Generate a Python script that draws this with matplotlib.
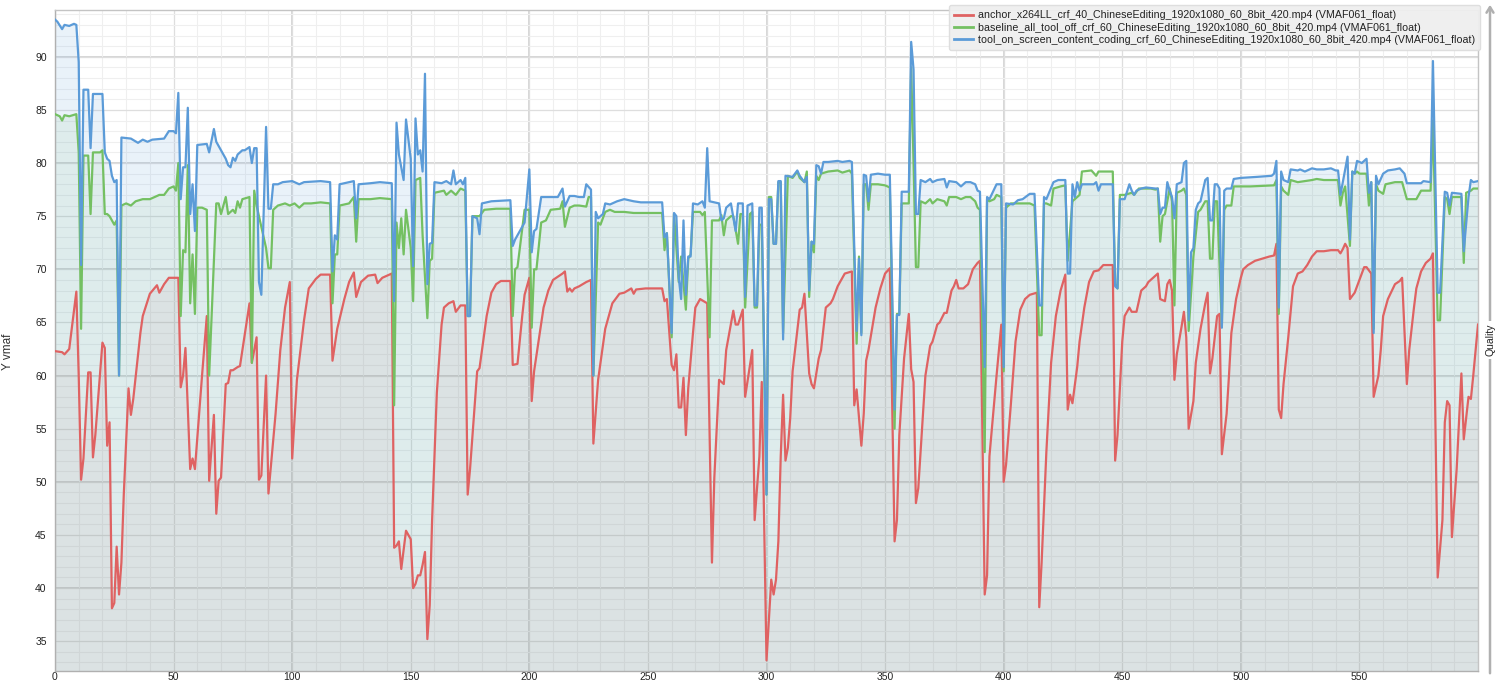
"""Per-frame VMAF comparison of three encodes (ChineseEditing clip)."""

import matplotlib
matplotlib.use("Agg")
import matplotlib.pyplot as plt
from matplotlib.lines import Line2D
from matplotlib.patches import FancyArrowPatch

plt.rcParams.update({
    "font.family": ["Liberation Sans", "DejaVu Sans"],
    "font.size": 7.5,
    "axes.linewidth": 1.0,
})

# ── Data (frame index, VMAF score) ────────────────────────────────────

anchor_frames = [
    0, 3, 4, 6, 9, 10, 11, 12, 14, 15, 16, 17, 20, 21, 22, 23, 24, 25, 26, 27,
    28, 29, 31, 32, 33, 36, 37, 39, 40, 43, 44, 46, 48, 52, 53, 54, 55, 57, 58, 59,
    62, 64, 65, 67, 68, 69, 70, 72, 73, 74, 75, 77, 78, 82, 83, 85, 86, 87, 89, 90,
    93, 95, 97, 99, 100, 102, 105, 107, 110, 112, 116, 117, 119, 122, 124, 126, 127,
    129, 132, 135, 136, 138, 142, 143, 144, 145, 146, 148, 150, 151, 152, 153, 154,
    155, 156, 157, 158, 159, 161, 163, 164, 166, 168, 169, 171, 173, 174, 175, 178,
    179, 182, 184, 186, 188, 192, 193, 195, 197, 198, 200, 201, 202, 206, 208, 210,
    214, 215, 216, 217, 218, 219, 221, 224, 226, 227, 229, 232, 235, 238, 240, 243,
    244, 245, 249, 256, 257, 258, 260, 261, 262, 263, 264, 265, 266, 267, 269, 270,
    272, 275, 277, 278, 280, 282, 283, 286, 287, 288, 290, 291, 294, 295, 297, 298,
    300, 302, 303, 304, 305, 306, 307, 308, 309, 310, 311, 314, 315, 316, 318, 319,
    320, 322, 323, 325, 327, 328, 330, 332, 333, 336, 337, 338, 340, 341, 342, 343,
    346, 348, 350, 352, 354, 355, 356, 358, 360, 361, 362, 363, 364, 367, 369, 370,
    372, 373, 375, 376, 378, 379, 380, 381, 383, 385, 387, 389, 390, 392, 393, 394,
    397, 399, 400, 401, 403, 405, 407, 409, 411, 414, 415, 416, 418, 420, 422, 424,
    426, 427, 428, 429, 431, 432, 434, 436, 438, 440, 442, 446, 447, 448, 449, 450,
    451, 453, 454, 456, 458, 460, 461, 463, 465, 466, 468, 469, 470, 471, 472, 473,
    475, 476, 477, 478, 480, 481, 483, 485, 486, 487, 488, 490, 491, 492, 494, 495,
    496, 498, 500, 501, 503, 506, 509, 512, 514, 515, 516, 517, 518, 520, 522, 524,
    526, 528, 530, 532, 535, 538, 541, 542, 543, 544, 545, 546, 548, 549, 551, 552,
    553, 555, 556, 558, 559, 560, 562, 565, 567, 568, 570, 571, 573, 574, 576, 578,
    580, 581, 583, 585, 586, 587, 588, 589, 591, 593, 594, 596, 597, 598, 600,
]
anchor_vmaf = [
    62.3, 62.2, 62.0, 62.5, 67.9, 60.0, 50.2, 52.2, 60.3, 60.3, 52.3, 54.4, 63.1, 62.6, 53.4, 55.6, 38.1, 38.6, 43.9, 39.4,
    42.4, 48.8, 58.8, 56.3, 57.8, 64.0, 65.6, 67.0, 67.7, 68.5, 67.8, 68.6, 69.2, 69.2, 58.9, 60.0, 62.6, 51.2, 52.2, 51.2,
    60.0, 65.6, 50.1, 56.3, 47.0, 50.1, 50.4, 59.2, 59.3, 60.5, 60.5, 60.8, 60.9, 66.8, 61.2, 63.6, 50.2, 50.6, 60.0, 48.9,
    56.4, 62.4, 66.4, 68.8, 52.2, 59.6, 65.2, 68.2, 69.1, 69.5, 69.5, 61.4, 64.4, 67.2, 68.8, 69.7, 67.4,
    68.8, 69.4, 69.5, 68.7, 69.2, 69.6, 43.8, 44.0, 44.4, 41.8, 45.4, 44.6, 40.0, 40.4, 41.2, 41.2,
    42.2, 43.4, 35.2, 38.4, 46.4, 58.4, 64.8, 66.4, 66.8, 67.0, 66.0, 66.6, 66.6, 48.8, 51.2, 60.4,
    60.7, 65.6, 67.8, 68.6, 68.9, 68.9, 61.0, 61.1, 65.6, 67.6, 69.2, 57.6, 60.4, 66.4, 68.0, 69.0,
    69.6, 69.8, 67.9, 68.2, 67.9, 68.2, 68.4, 68.8, 69.0, 53.6, 59.6, 64.4, 66.8, 67.7, 67.8, 68.2,
    67.7, 68.1, 68.2, 68.2, 67.0, 67.2, 61.0, 60.5, 62.0, 57.0, 57.0, 59.8, 54.4, 58.8, 64.0, 66.4,
    67.2, 66.8, 42.4, 50.4, 59.6, 59.2, 62.4, 66.1, 64.8, 64.8, 66.2, 58.0, 62.4, 46.4, 52.4, 59.4,
    33.2, 40.8, 39.4, 40.8, 44.4, 52.4, 58.2, 52.0, 53.2, 56.0, 60.4, 66.2, 66.4, 67.7, 60.2, 59.2,
    58.8, 61.6, 62.4, 66.4, 66.8, 67.2, 68.4, 69.2, 69.6, 69.8, 57.2, 58.7, 53.4, 56.4, 61.4, 62.4,
    66.4, 68.2, 69.6, 70.1, 44.4, 46.4, 54.4, 61.6, 65.8, 60.6, 59.4, 48.0, 49.4, 60.0, 62.8, 63.2,
    64.8, 65.0, 65.9, 65.9, 68.0, 68.4, 69.0, 68.2, 68.2, 68.6, 70.0, 70.6, 70.8, 39.4, 41.2, 52.4,
    60.0, 64.8, 50.0, 51.6, 57.2, 63.2, 66.2, 67.2, 67.6, 67.8, 38.2, 42.4, 52.8, 61.2, 65.6, 68.0,
    69.5, 56.8, 58.2, 57.4, 60.8, 63.2, 66.4, 68.8, 69.8, 69.9, 70.4, 70.4, 52.0, 54.4, 58.8, 63.2,
    65.6, 66.4, 66.0, 66.0, 68.0, 68.4, 68.8, 69.2, 69.6, 67.2, 67.0, 68.6, 69.0, 68.0, 59.6, 62.0,
    64.6, 66.0, 63.6, 55.0, 57.6, 61.2, 64.4, 66.8, 67.8, 60.2, 61.6, 65.6, 65.8, 52.6, 56.4, 60.0,
    64.0, 67.2, 69.2, 70.0, 70.4, 70.8, 71.0, 71.2, 71.3, 72.4, 56.8, 56.0, 59.2, 63.6, 68.4, 69.6,
    69.8, 70.4, 71.2, 71.7, 71.7, 71.8, 71.8, 71.5, 71.9, 72.4, 72.0, 67.2, 67.8, 68.4, 69.6, 70.2,
    70.2, 69.6, 58.0, 60.0, 62.4, 65.6, 67.2, 68.6, 68.9, 69.2, 59.2, 62.4, 66.4, 68.2, 69.8, 70.6,
    71.0, 71.5, 41.0, 46.4, 55.6, 57.6, 57.2, 44.8, 51.2, 60.2, 54.0, 58.0, 57.8, 60.0, 64.8,
]

baseline_frames = [
    0, 2, 3, 4, 6, 9, 10, 11, 12, 14, 15, 16, 19, 20, 21, 22, 23, 25, 26, 27,
    28, 30, 32, 34, 37, 40, 44, 46, 48, 50, 51, 52, 53, 54, 55, 56, 57, 58, 59, 60,
    62, 64, 65, 68, 69, 70, 72, 73, 75, 76, 77, 78, 79, 82, 83, 84, 85, 87, 89, 90,
    91, 92, 94, 97, 99, 101, 103, 105, 108, 112, 116, 117, 118, 119, 120, 124, 126,
    127, 128, 133, 137, 142, 143, 144, 145, 146, 147, 148, 150, 151, 152, 154, 155,
    157, 158, 159, 160, 164, 165, 167, 169, 171, 173, 174, 175, 176, 179, 181, 186,
    192, 193, 194, 195, 198, 200, 201, 202, 203, 205, 207, 209, 213, 214, 215, 217,
    219, 221, 224, 225, 226, 227, 229, 230, 232, 234, 236, 240, 244, 256, 257, 258,
    260, 261, 263, 264, 266, 267, 268, 269, 272, 273, 274, 276, 277, 280, 281, 282,
    283, 285, 286, 288, 289, 290, 291, 293, 294, 295, 296, 297, 298, 300, 301, 302,
    303, 304, 305, 306, 307, 309, 311, 313, 314, 316, 317, 318, 319, 320, 321, 322,
    323, 326, 330, 332, 335, 336, 338, 339, 340, 341, 342, 343, 344, 347, 350, 352,
    354, 355, 356, 357, 360, 361, 362, 363, 364, 365, 367, 369, 370, 372, 375, 376,
    377, 380, 382, 384, 386, 388, 389, 390, 392, 393, 394, 396, 397, 399, 400, 401,
    403, 408, 411, 413, 415, 416, 417, 418, 420, 421, 424, 426, 427, 429, 431, 432,
    433, 437, 439, 440, 446, 447, 448, 449, 451, 454, 455, 457, 459, 462, 464, 465,
    466, 467, 468, 470, 471, 472, 473, 475, 476, 477, 478, 480, 482, 483, 485, 486,
    487, 488, 489, 490, 492, 493, 494, 496, 497, 504, 514, 515, 516, 517, 518, 520,
    521, 524, 527, 530, 532, 535, 538, 541, 542, 543, 544, 546, 547, 548, 549, 550,
    553, 554, 555, 556, 557, 558, 560, 561, 565, 568, 570, 572, 574, 576, 580, 581,
    583, 584, 586, 587, 588, 589, 593, 594, 595, 597, 598, 600,
]
baseline_vmaf = [
    84.6, 84.4, 84.0, 84.5, 84.4, 84.6, 81.0, 64.4, 80.7, 80.7, 75.2, 81.0, 81.0, 81.2, 75.2, 75.2, 75.0, 74.2, 74.6, 60.0,
    76.0, 76.2, 76.0, 76.4, 76.6, 76.6, 77.0, 77.0, 77.6, 77.8, 77.4, 80.0, 65.6, 71.8, 71.6, 79.8, 66.8, 71.4, 65.8, 75.8,
    75.8, 75.6, 60.0, 76.2, 76.2, 75.2, 76.8, 75.2, 75.6, 75.3, 76.4, 75.8, 76.6, 76.8, 61.2, 77.4, 76.0, 74.0, 72.0, 70.1,
    70.1, 75.6, 76.0, 76.2, 76.0, 76.2, 75.8, 76.2, 76.2, 76.3, 76.2, 66.8, 71.4, 71.4, 76.0, 76.2, 76.8,
    72.6, 76.6, 76.6, 76.7, 76.6, 57.2, 74.4, 72.0, 74.8, 71.4, 75.6, 72.0, 67.0, 78.4, 78.6, 73.2,
    65.4, 70.8, 71.0, 77.2, 77.4, 77.0, 77.4, 77.0, 77.6, 77.4, 65.6, 65.6, 75.0, 75.0, 75.6, 75.7,
    75.7, 65.6, 70.0, 70.2, 75.6, 75.6, 64.5, 70.0, 70.0, 74.4, 74.6, 75.6, 75.7, 76.4, 74.0, 75.8,
    76.0, 76.0, 75.9, 76.8, 76.8, 60.0, 74.4, 74.2, 75.4, 75.6, 75.4, 75.4, 75.3, 75.3, 71.8, 73.4,
    63.6, 75.2, 68.8, 71.2, 66.2, 71.0, 71.4, 75.4, 75.4, 75.1, 75.4, 63.6, 74.6, 74.6, 75.1, 73.2,
    74.6, 75.0, 75.0, 72.4, 75.2, 75.2, 66.4, 75.2, 75.4, 66.4, 66.4, 74.2, 74.2, 48.8, 76.8, 76.8,
    72.4, 72.4, 78.2, 78.2, 64.0, 78.8, 78.6, 79.2, 78.6, 78.2, 79.2, 67.4, 72.6, 71.6, 78.8, 78.4,
    79.0, 79.2, 79.3, 79.1, 79.3, 79.0, 63.0, 71.2, 64.0, 78.0, 78.0, 75.6, 78.0, 78.0, 77.9, 77.7,
    55.0, 65.8, 65.8, 76.2, 76.2, 89.0, 80.0, 70.2, 70.2, 76.4, 76.2, 76.6, 76.2, 76.6, 76.4, 76.0,
    76.8, 76.8, 76.6, 76.8, 76.8, 76.4, 75.8, 75.6, 52.8, 76.6, 76.4, 76.6, 77.0, 76.8, 60.4, 75.8,
    76.2, 76.2, 76.2, 76.0, 63.8, 63.8, 76.2, 76.2, 76.0, 77.6, 77.8, 77.9, 70.8, 76.4, 76.8, 77.0,
    79.2, 79.3, 78.8, 79.2, 79.2, 68.6, 68.2, 77.0, 77.0, 77.2, 77.0, 77.6, 77.6, 77.6, 77.5, 77.6,
    72.6, 75.0, 75.2, 77.6, 76.4, 66.6, 77.2, 77.4, 77.6, 77.0, 64.2, 71.2, 75.4, 75.6, 76.4, 76.4,
    71.0, 71.0, 76.4, 76.4, 64.6, 75.6, 76.0, 76.0, 77.8, 77.8, 77.9, 78.4, 65.8, 77.8, 77.4, 77.0,
    78.4, 78.2, 78.3, 78.4, 78.5, 78.4, 78.4, 78.4, 76.0, 77.2, 77.8, 72.2, 79.2, 79.0, 79.2, 79.0,
    79.0, 76.0, 78.2, 64.4, 78.0, 77.4, 77.1, 78.0, 78.2, 78.2, 76.6, 76.6, 76.6, 77.4, 77.4, 84.0,
    65.2, 65.2, 76.8, 76.6, 75.2, 76.8, 76.8, 70.6, 77.2, 77.4, 77.6, 77.6,
]

tool_on_frames = [
    0, 1, 3, 4, 6, 8, 9, 10, 11, 12, 14, 15, 16, 20, 21, 22, 23, 24, 25, 26,
    27, 28, 32, 35, 37, 39, 41, 46, 48, 50, 51, 52, 53, 54, 55, 56, 57, 58, 59, 60,
    64, 65, 67, 68, 70, 72, 73, 74, 75, 76, 77, 79, 80, 82, 83, 84, 85, 86, 87, 89,
    90, 91, 92, 94, 96, 100, 103, 105, 112, 116, 117, 118, 119, 120, 124, 126, 127,
    128, 133, 137, 142, 143, 144, 145, 147, 148, 150, 151, 152, 153, 154, 155, 156,
    157, 158, 159, 160, 163, 165, 167, 168, 169, 171, 172, 173, 174, 175, 176, 178,
    179, 180, 184, 192, 193, 194, 196, 198, 200, 201, 202, 203, 205, 207, 212, 213,
    214, 215, 217, 219, 221, 223, 224, 226, 227, 228, 229, 231, 232, 234, 237, 240,
    244, 247, 256, 257, 258, 260, 261, 262, 263, 264, 265, 266, 267, 268, 269, 271,
    273, 274, 275, 276, 280, 281, 282, 283, 285, 287, 288, 290, 291, 292, 294, 295,
    296, 297, 298, 300, 301, 302, 303, 304, 305, 306, 307, 308, 311, 313, 314, 316,
    317, 318, 319, 320, 321, 322, 323, 324, 326, 330, 332, 335, 336, 338, 339, 340,
    341, 342, 343, 344, 347, 350, 352, 354, 355, 356, 357, 360, 361, 362, 363, 364,
    365, 367, 369, 370, 372, 375, 376, 377, 380, 382, 384, 386, 388, 389, 390, 392,
    393, 394, 397, 399, 400, 401, 404, 406, 408, 411, 413, 415, 416, 417, 418, 421,
    423, 426, 427, 428, 429, 430, 431, 432, 433, 438, 439, 440, 441, 446, 447, 448,
    449, 451, 453, 454, 455, 456, 458, 460, 464, 465, 466, 467, 468, 469, 470, 471,
    472, 473, 475, 476, 477, 478, 479, 480, 481, 482, 483, 485, 486, 487, 488, 489,
    490, 491, 492, 493, 494, 496, 497, 500, 507, 513, 514, 515, 516, 517, 518, 520,
    521, 524, 525, 527, 530, 532, 535, 538, 540, 541, 542, 543, 545, 546, 547, 548,
    549, 551, 553, 554, 555, 556, 557, 558, 560, 562, 565, 567, 569, 570, 573, 576,
    577, 580, 581, 583, 584, 586, 587, 588, 589, 593, 594, 596, 597, 598, 600,
]
tool_on_vmaf = [
    93.5, 93.3, 92.6, 93.0, 92.9, 93.1, 93.0, 89.5, 70.4, 86.9, 86.9, 81.4, 86.5, 86.5, 81.0, 80.4, 80.2, 78.8, 78.2, 78.4,
    60.0, 82.4, 82.3, 81.9, 82.2, 82.0, 82.2, 82.3, 83.0, 83.0, 82.8, 86.6, 76.6, 79.6, 79.6, 85.2, 75.2, 78.0, 73.6, 81.7,
    81.8, 81.0, 83.2, 82.0, 81.2, 80.4, 79.8, 79.6, 80.5, 80.2, 80.8, 81.2, 81.2, 81.5, 80.0, 81.4, 81.4, 68.8, 67.6, 83.4,
    75.7, 75.7, 78.0, 78.0, 78.2, 78.3, 78.0, 78.2, 78.3, 78.2, 69.8, 73.2, 72.8, 78.0, 78.2, 78.3, 74.8,
    78.0, 78.1, 78.2, 78.1, 67.0, 83.8, 80.8, 78.4, 84.1, 80.4, 70.3, 84.2, 80.8, 81.2, 79.2, 88.4,
    68.6, 72.4, 72.5, 78.2, 78.1, 78.3, 78.0, 79.3, 78.0, 78.4, 78.0, 78.6, 65.6, 65.6, 75.0, 74.8,
    73.3, 76.2, 76.4, 76.5, 72.2, 72.8, 73.6, 74.4, 79.4, 71.6, 73.6, 73.8, 76.8, 76.8, 76.8, 77.2,
    77.6, 75.9, 76.9, 76.9, 76.8, 76.8, 78.0, 77.5, 60.0, 75.4, 74.8, 75.2, 76.2, 76.1, 76.4, 76.6,
    76.4, 76.3, 76.3, 73.0, 73.4, 64.0, 75.3, 75.0, 69.2, 67.2, 74.6, 67.6, 71.2, 71.2, 76.2, 76.1,
    76.4, 75.8, 81.4, 76.4, 76.2, 74.6, 74.8, 75.8, 76.2, 73.6, 76.2, 76.2, 67.4, 76.0, 76.2, 66.6,
    66.6, 75.8, 75.8, 48.8, 76.6, 76.6, 72.4, 72.4, 78.3, 78.3, 63.4, 78.8, 78.7, 79.3, 78.8, 78.2,
    78.7, 68.0, 72.6, 72.4, 79.8, 79.7, 79.0, 80.1, 80.1, 80.2, 80.1, 80.2, 80.1, 64.2, 71.0, 63.8,
    78.9, 78.8, 76.4, 78.9, 79.0, 78.9, 78.9, 56.8, 65.7, 65.7, 77.3, 77.3, 91.4, 88.8, 75.2, 75.2,
    78.4, 78.2, 78.5, 78.2, 78.4, 78.5, 77.7, 78.3, 78.2, 77.8, 78.2, 78.2, 78.0, 77.4, 77.3, 60.8,
    76.8, 76.6, 78.0, 78.0, 60.8, 76.2, 76.1, 76.5, 76.6, 77.1, 77.1, 66.6, 66.6, 76.8, 76.6, 78.2,
    78.4, 78.4, 69.6, 69.6, 78.0, 76.8, 78.2, 77.4, 78.0, 78.0, 78.2, 77.4, 78.0, 78.0, 68.4, 68.2,
    76.6, 76.6, 78.0, 77.4, 77.0, 77.4, 77.6, 77.7, 77.6, 77.6, 75.2, 75.8, 75.8, 78.2, 77.4, 76.8,
    74.8, 78.0, 78.2, 80.0, 80.2, 65.2, 71.6, 72.0, 75.6, 76.2, 76.4, 78.4, 78.6, 74.6, 74.6, 78.0,
    78.0, 77.6, 64.5, 77.4, 77.6, 77.6, 78.5, 78.6, 78.7, 78.8, 79.0, 80.2, 66.4, 79.2, 78.4, 78.2,
    79.4, 79.3, 79.4, 79.2, 79.5, 79.4, 79.4, 79.5, 79.3, 79.3, 77.0, 78.2, 80.6, 72.8, 79.2, 79.0,
    80.2, 80.0, 80.4, 77.2, 78.2, 64.0, 78.8, 78.0, 79.0, 79.3, 79.4, 79.5, 79.0, 78.1, 78.1, 78.1,
    78.3, 78.2, 89.6, 67.8, 67.8, 77.3, 77.2, 76.0, 77.2, 77.1, 71.7, 76.8, 78.4, 78.2, 78.3,
]

series_labels = [
    "anchor_x264LL_crf_40_ChineseEditing_1920x1080_60_8bit_420.mp4 (VMAF061_float)",
    "baseline_all_tool_off_crf_60_ChineseEditing_1920x1080_60_8bit_420.mp4 (VMAF061_float)",
    "tool_on_screen_content_coding_crf_60_ChineseEditing_1920x1080_60_8bit_420.mp4 (VMAF061_float)",
]
x_ticks = list(range(0, 551, 50))
y_ticks = list(range(35, 91, 5))

COLORS = ["#df6262", "#74c062", "#5b9bd8"]
FILL_ALPHA = [0.08, 0.09, 0.13]
Y_MIN, Y_MAX = 32.2, 94.4
X_MAX = 600


def main() -> None:
    fig = plt.figure(figsize=(15.08, 6.81), dpi=100)
    ax = fig.add_axes([55 / 1508, 10 / 681, 1423 / 1508, 661 / 681])
    ax.set_facecolor("white")

    # grid: fine every 1 / 10, medium every 5 / 50, strong every 10 / 100
    ax.set_xticks(range(0, X_MAX + 1, 10), minor=True)
    ax.set_yticks(range(33, 95), minor=True)
    ax.grid(which="minor", color="#efefef", linewidth=0.8)
    ax.grid(which="major", color="#dedede", linewidth=0.9)
    for xv in range(100, X_MAX, 100):
        ax.axvline(xv, color="#cdcdcd", linewidth=1.1, zorder=0.5)
    for yv in range(40, 91, 10):
        ax.axhline(yv, color="#d2d2d2", linewidth=1.3, zorder=0.5)
    ax.set_axisbelow(True)

    series = [
        (anchor_frames, anchor_vmaf),
        (baseline_frames, baseline_vmaf),
        (tool_on_frames, tool_on_vmaf),
    ]
    for (frames, vmaf), color, alpha in zip(series, COLORS, FILL_ALPHA):
        ax.fill_between(frames, vmaf, Y_MIN, color=color, alpha=alpha,
                        linewidth=0, zorder=1)
    for (frames, vmaf), color in zip(series, COLORS):
        ax.plot(frames, vmaf, color=color, linewidth=1.6,
                solid_joinstyle="round", zorder=3)

    ax.set_xlim(0, X_MAX)
    ax.set_ylim(Y_MIN, Y_MAX)
    ax.set_xticks(x_ticks)
    ax.set_yticks(y_ticks)
    ax.tick_params(axis="both", which="both", length=0, labelsize=7.5,
                   colors="#222222")
    ax.tick_params(axis="x", pad=0.5)
    ax.tick_params(axis="y", pad=6)
    for name, spine in ax.spines.items():
        spine.set_color("#c4c4c4" if name in ("top", "right") else "#b0b0b0")

    fig.text(8 / 1508, 1 - 352 / 681, "Y vmaf", rotation=90,
             ha="center", va="center", fontsize=8.5, color="#333333")

    # right-hand "Quality" arrow
    ax_x = 1490 / 1508
    fig.add_artist(FancyArrowPatch(
        (ax_x, 1 - 676 / 681), (ax_x, 1 - 2 / 681),
        transform=fig.transFigure, arrowstyle="->,head_length=4,head_width=2.5",
        color="#b0b0b0", linewidth=1.8, mutation_scale=1))
    fig.text(ax_x, 1 - 340 / 681, "Quality", rotation=90, ha="center",
             va="center", fontsize=7.5, color="#222222",
             bbox=dict(boxstyle="square,pad=0.25", fc="white", ec="none"))

    handles = [Line2D([], [], color=c, linewidth=2) for c in COLORS]
    leg = fig.legend(handles, series_labels, loc="upper right",
                     bbox_to_anchor=(1480 / 1508, 1 - 5 / 681),
                     fontsize=7.7, frameon=True, fancybox=True,
                     facecolor="#efefef", edgecolor="#dddddd", framealpha=0.95,
                     handlelength=1.8, handletextpad=0.4, labelspacing=0.22,
                     borderpad=0.5, borderaxespad=0)
    for text in leg.get_texts():
        text.set_color("#222222")

    fig.savefig("out.png", dpi=100)
    plt.close(fig)


if __name__ == "__main__":
    main()
